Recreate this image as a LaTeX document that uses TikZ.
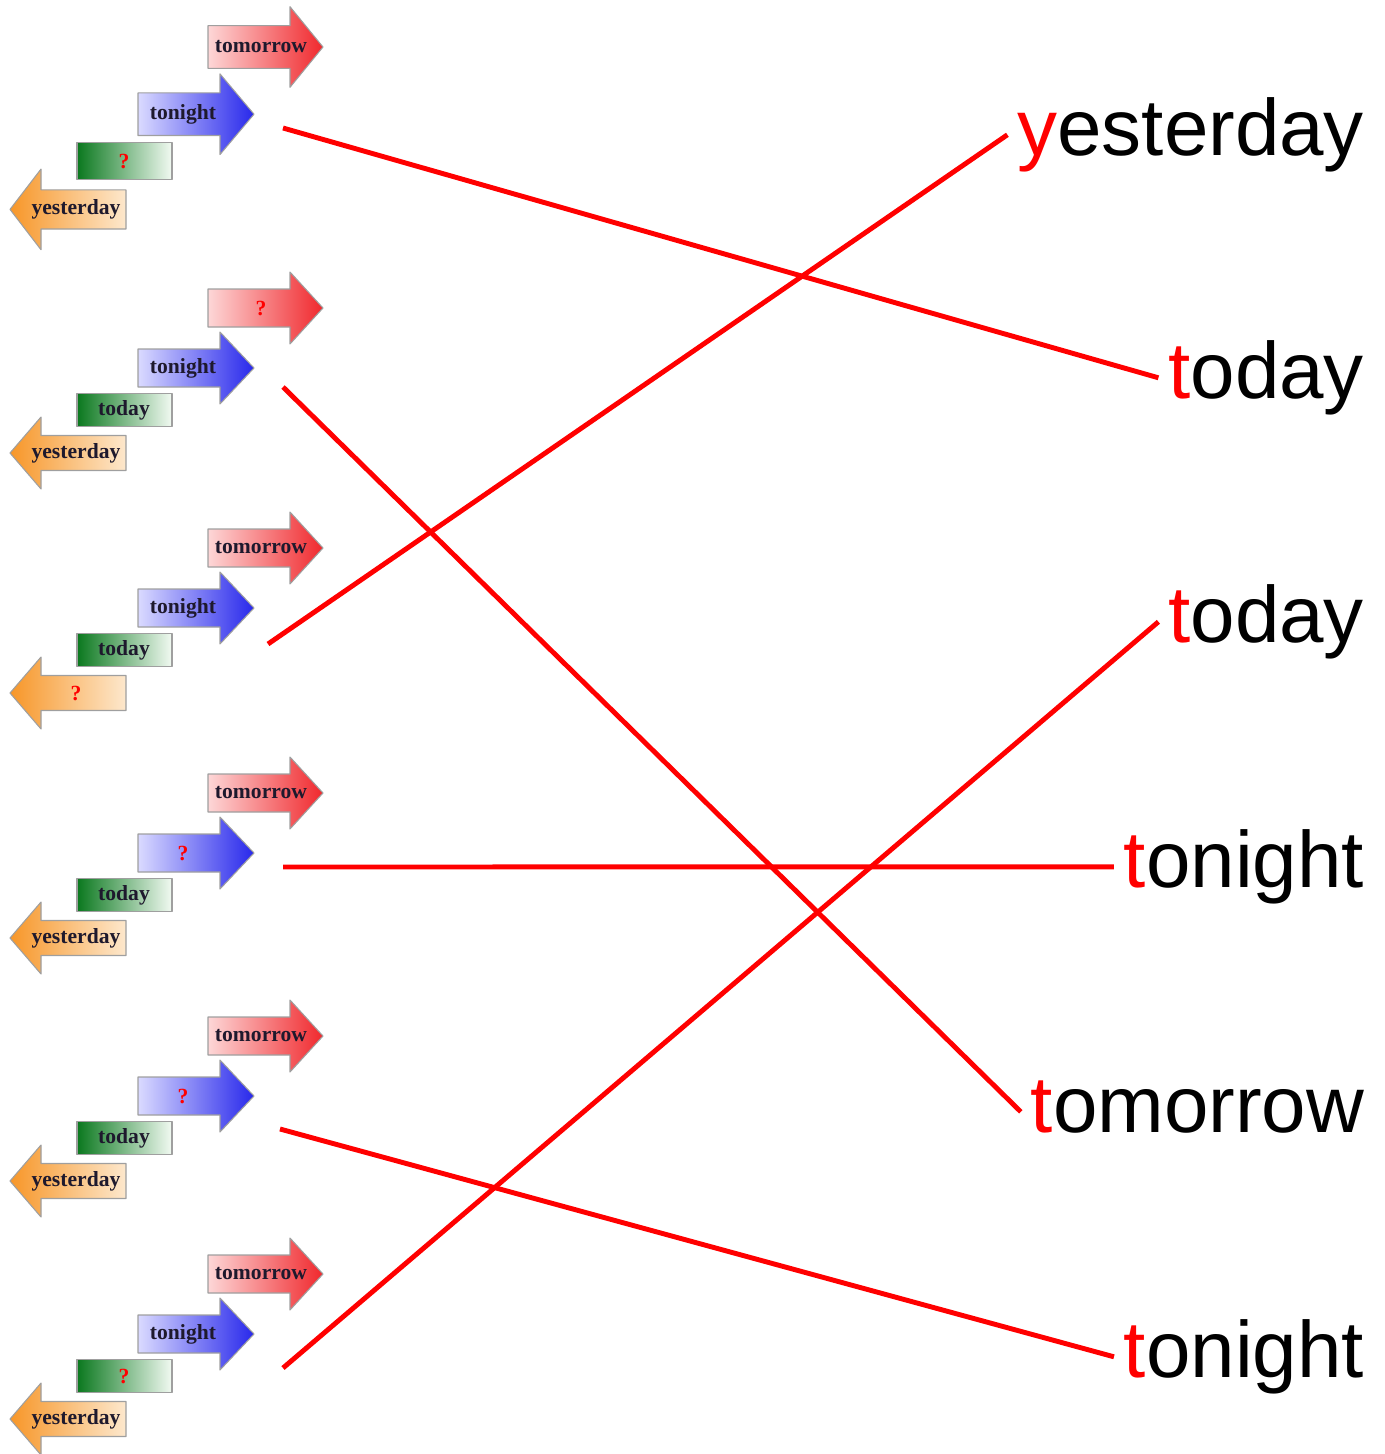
\documentclass[tikz,border=0pt]{standalone}
\usepackage{fontspec}
\setmainfont{Liberation Serif}
\newfontfamily\wordfont{Liberation Sans}
\definecolor{redL}{RGB}{253,215,215}
\definecolor{redR}{RGB}{240,40,45}
\definecolor{bluL}{RGB}{218,218,255}
\definecolor{bluR}{RGB}{40,40,235}
\definecolor{grnL}{RGB}{10,120,30}
\definecolor{grnR}{RGB}{242,250,242}
\definecolor{orgL}{RGB}{247,150,40}
\definecolor{orgR}{RGB}{253,232,205}
\definecolor{lbltxt}{RGB}{30,25,45}
\newcommand\qm{\textcolor{red}{?}}
\newcommand\fst[1]{\textcolor{red}{#1}}
\tikzset{
  arr/.style={draw=gray!75, line width=0.6pt},
  lbl/.style={font=\bfseries\fontsize{12.3}{14}\selectfont, text=lbltxt, inner sep=0pt},
  word/.style={font=\wordfont\fontsize{45.5}{50}\selectfont, anchor=base east,
    text height=32pt, text depth=9pt, inner xsep=5.5pt, inner ysep=0pt},
  match/.style={red, line width=2.8pt}
}
\begin{document}
\begin{tikzpicture}[x=0.02cm, y=-0.02cm, line join=round]
\useasboundingbox (0,0) rectangle (1384,1454);
% the six time lines on the left
\foreach \g/\T/\sy/\tA/\tB/\tC/\tD in {1/47/1.12/tomorrow/tonight/\qm/yesterday,
    2/308/1/\qm/tonight/today/yesterday, 3/548/1/tomorrow/tonight/today/\qm,
    4/793/1/tomorrow/\qm/today/yesterday, 5/1036/1/tomorrow/\qm/today/yesterday,
    6/1274/1/tomorrow/tonight/\qm/yesterday}{
  \begin{scope}[shift={(0,\T)}, yscale=\sy]
    \path[arr, left color=redL, right color=redR] (208,-19) -- (290,-19) -- (290,-36)
      -- (323,0) -- (290,36) -- (290,19) -- (208,19) -- cycle;
    \path[arr, left color=bluL, right color=bluR] (138,41) -- (220,41) -- (220,24)
      -- (254,60) -- (220,96) -- (220,79) -- (138,79) -- cycle;
    \path[arr, left color=grnL, right color=grnR] (77,85.5) rectangle (172,118.5);
    \path[arr, left color=orgL, right color=orgR] (126,127.5) -- (41,127.5) -- (41,109)
      -- (10,145) -- (41,181) -- (41,162.5) -- (126,162.5) -- cycle;
    \node[lbl] (r\g) at (261,0) {\tA};
    \node[lbl] (b\g) at (183,60) {\tB};
    \node[lbl] (g\g) at (124,102) {\tC};
    \node[lbl] (o\g) at (76,145) {\tD};
  \end{scope}
}
% words on the right
\node[word] (w1) at (1374,155) {\fst{y}esterday};
\node[word] (w2) at (1374,398) {\fst{t}oday};
\node[word] (w3) at (1374,642) {\fst{t}oday};
\node[word] (w4) at (1374,887) {\fst{t}onight};
\node[word] (w5) at (1374,1132) {\fst{t}omorrow};
\node[word] (w6) at (1374,1377) {\fst{t}onight};
% line starts
\coordinate (s1) at (283,128);
\coordinate (s2) at (283,387);
\coordinate (s3) at (268,644);
\coordinate (s4) at (283,867);
\coordinate (s5) at (280,1129);
\coordinate (s6) at (283,1368);
\foreach \a/\b in {s1/w2,s2/w5,s3/w1,s4/w4,s5/w6,s6/w3}
  \draw[match] (\a) -- (\b.west);
\end{tikzpicture}
\end{document}
